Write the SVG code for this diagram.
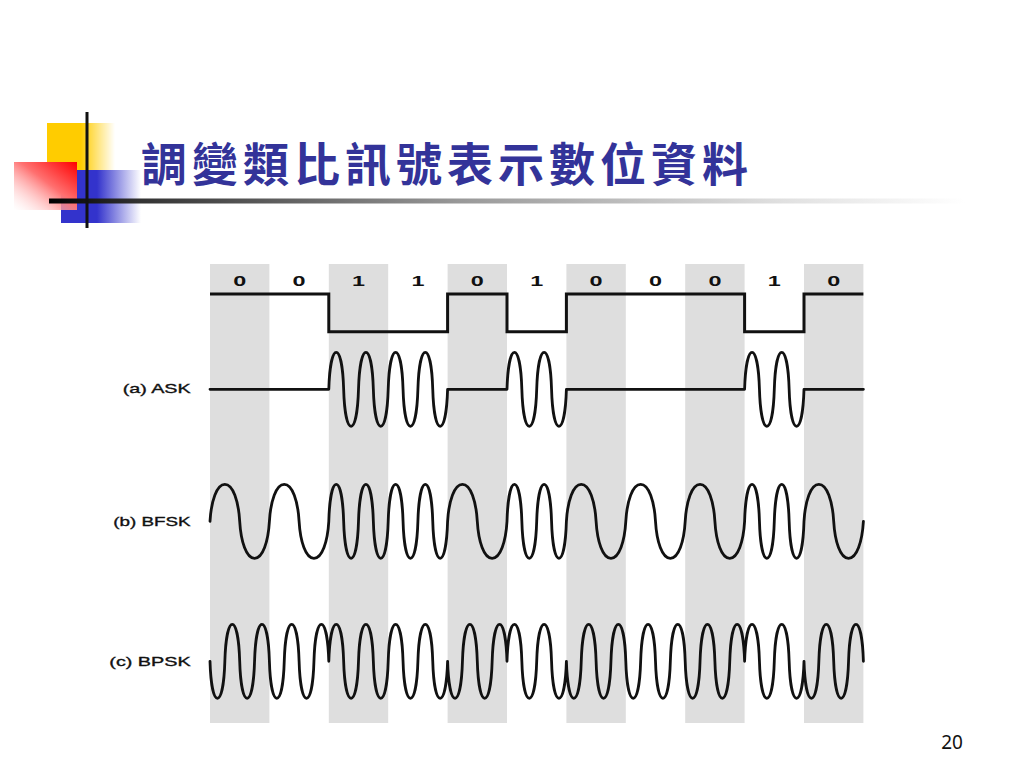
<svg xmlns="http://www.w3.org/2000/svg" width="1024" height="768" viewBox="0 0 1024 768">
<defs>
<style>
.stripe{fill:#dedede}
.wave{fill:none;stroke:#111;stroke-width:2.8;stroke-linejoin:round;stroke-linecap:round}
.digital{fill:none;stroke:#111;stroke-width:3;stroke-linejoin:miter}
.bit{font-family:"Liberation Sans",Arial,sans-serif;font-weight:bold;font-size:15px;fill:#111;text-anchor:middle}
.lbl{font-family:"Liberation Sans",Arial,sans-serif;font-size:13px;fill:#111;stroke:#111;stroke-width:0.35}
.title{font-family:"Noto Sans CJK TC","Noto Sans CJK SC",sans-serif;font-weight:bold;font-size:46px;letter-spacing:5px;fill:#333399}
.page{font-family:"Noto Sans","Liberation Sans",sans-serif;font-size:19px;fill:#111}
</style>
<linearGradient id="gY" x1="0" y1="0" x2="1" y2="0">
<stop offset="0" stop-color="#ffcc00"/><stop offset="0.5" stop-color="#ffcc00"/><stop offset="1" stop-color="#ffcc00" stop-opacity="0"/>
</linearGradient>
<linearGradient id="gR" x1="1" y1="0" x2="0" y2="1">
<stop offset="0" stop-color="#ff0000"/><stop offset="0.45" stop-color="#ff7070"/><stop offset="1" stop-color="#ffffff" stop-opacity="0.3"/>
</linearGradient>
<linearGradient id="gB" x1="0" y1="0" x2="1" y2="0">
<stop offset="0" stop-color="#3333cc"/><stop offset="0.45" stop-color="#3333cc"/><stop offset="1" stop-color="#3333cc" stop-opacity="0"/>
</linearGradient>
<linearGradient id="gL" x1="0" y1="0" x2="1" y2="0">
<stop offset="0" stop-color="#000"/><stop offset="0.1" stop-color="#333"/><stop offset="0.45" stop-color="#999"/><stop offset="0.8" stop-color="#e0e0e0"/><stop offset="1" stop-color="#fff"/>
</linearGradient>
</defs>
<rect width="1024" height="768" fill="#fff"/>
<g id="decoration">
<rect x="47" y="123" width="68" height="47" fill="url(#gY)"/>
<rect x="61" y="170" width="80" height="53" fill="url(#gB)"/>
<rect x="14" y="162" width="63" height="48" fill="url(#gR)"/>
<rect x="49" y="198.5" width="916" height="5" fill="url(#gL)"/>
<line x1="87" y1="112" x2="87" y2="228" stroke="#111" stroke-width="3"/>
</g>
<g id="title">
<text class="title" x="141" y="181">調變類比訊號表示數位資料</text>
</g>
<g id="stripes">
<rect class="stripe" x="210" y="264" width="59.4" height="459"/>
<rect class="stripe" x="328.8" y="264" width="59.4" height="459"/>
<rect class="stripe" x="447.6" y="264" width="59.4" height="459"/>
<rect class="stripe" x="566.4" y="264" width="59.4" height="459"/>
<rect class="stripe" x="685.2" y="264" width="59.4" height="459"/>
<rect class="stripe" x="804" y="264" width="59.4" height="459"/>
</g>
<g id="bits">
<text class="bit" x="239.7" y="286" textLength="13" lengthAdjust="spacingAndGlyphs">0</text>
<text class="bit" x="299.1" y="286" textLength="13" lengthAdjust="spacingAndGlyphs">0</text>
<text class="bit" x="358.5" y="286" textLength="13" lengthAdjust="spacingAndGlyphs">1</text>
<text class="bit" x="417.9" y="286" textLength="13" lengthAdjust="spacingAndGlyphs">1</text>
<text class="bit" x="477.3" y="286" textLength="13" lengthAdjust="spacingAndGlyphs">0</text>
<text class="bit" x="536.7" y="286" textLength="13" lengthAdjust="spacingAndGlyphs">1</text>
<text class="bit" x="596.1" y="286" textLength="13" lengthAdjust="spacingAndGlyphs">0</text>
<text class="bit" x="655.5" y="286" textLength="13" lengthAdjust="spacingAndGlyphs">0</text>
<text class="bit" x="714.9" y="286" textLength="13" lengthAdjust="spacingAndGlyphs">0</text>
<text class="bit" x="774.3" y="286" textLength="13" lengthAdjust="spacingAndGlyphs">1</text>
<text class="bit" x="833.7" y="286" textLength="13" lengthAdjust="spacingAndGlyphs">0</text>
</g>
<g id="labels">
<text class="lbl" x="122.7" y="393" textLength="68" lengthAdjust="spacingAndGlyphs">(a) ASK</text>
<text class="lbl" x="113.3" y="525.5" textLength="77.4" lengthAdjust="spacingAndGlyphs">(b) BFSK</text>
<text class="lbl" x="109.3" y="666" textLength="81.4" lengthAdjust="spacingAndGlyphs">(c) BPSK</text>
</g>
<g id="signals">
<path id="digital" class="digital" d="M210,294 H328.8 V331.7 H447.6 V294 H507 V331.7 H566.4 V294 H744.6 V331.7 H804 V294 H863.4"/>
<path id="ask" class="wave" d="M210,389.3 H328.8 c0.594,-20.35 3.341,-37 7.425,-37 s6.831,16.65 7.425,37 3.341,37 7.425,37 6.831,-16.65 7.425,-37 s3.341,-37 7.425,-37 6.831,16.65 7.425,37 3.341,37 7.425,37 6.831,-16.65 7.425,-37 s3.341,-37 7.425,-37 6.831,16.65 7.425,37 3.341,37 7.425,37 6.831,-16.65 7.425,-37 s3.341,-37 7.425,-37 6.831,16.65 7.425,37 3.341,37 7.425,37 6.831,-16.65 7.425,-37 H507 c0.594,-20.35 3.341,-37 7.425,-37 s6.831,16.65 7.425,37 3.341,37 7.425,37 6.831,-16.65 7.425,-37 s3.341,-37 7.425,-37 6.831,16.65 7.425,37 3.341,37 7.425,37 6.831,-16.65 7.425,-37 H744.6 c0.594,-20.35 3.341,-37 7.425,-37 s6.831,16.65 7.425,37 3.341,37 7.425,37 6.831,-16.65 7.425,-37 s3.341,-37 7.425,-37 6.831,16.65 7.425,37 3.341,37 7.425,37 6.831,-16.65 7.425,-37 H863.4"/>
<path id="bfsk" class="wave" d="M210,521.3 c1.188,-20.35 6.683,-37 14.85,-37 s13.662,16.65 14.85,37 6.683,37 14.85,37 13.662,-16.65 14.85,-37 s6.683,-37 14.85,-37 13.662,16.65 14.85,37 6.683,37 14.85,37 13.662,-16.65 14.85,-37 c0.594,-20.35 3.341,-37 7.425,-37 s6.831,16.65 7.425,37 3.341,37 7.425,37 6.831,-16.65 7.425,-37 s3.341,-37 7.425,-37 6.831,16.65 7.425,37 3.341,37 7.425,37 6.831,-16.65 7.425,-37 s3.341,-37 7.425,-37 6.831,16.65 7.425,37 3.341,37 7.425,37 6.831,-16.65 7.425,-37 s3.341,-37 7.425,-37 6.831,16.65 7.425,37 3.341,37 7.425,37 6.831,-16.65 7.425,-37 c1.188,-20.35 6.683,-37 14.85,-37 s13.662,16.65 14.85,37 6.683,37 14.85,37 13.662,-16.65 14.85,-37 c0.594,-20.35 3.341,-37 7.425,-37 s6.831,16.65 7.425,37 3.341,37 7.425,37 6.831,-16.65 7.425,-37 s3.341,-37 7.425,-37 6.831,16.65 7.425,37 3.341,37 7.425,37 6.831,-16.65 7.425,-37 c1.188,-20.35 6.683,-37 14.85,-37 s13.662,16.65 14.85,37 6.683,37 14.85,37 13.662,-16.65 14.85,-37 s6.683,-37 14.85,-37 13.662,16.65 14.85,37 6.683,37 14.85,37 13.662,-16.65 14.85,-37 s6.683,-37 14.85,-37 13.662,16.65 14.85,37 6.683,37 14.85,37 13.662,-16.65 14.85,-37 c0.594,-20.35 3.341,-37 7.425,-37 s6.831,16.65 7.425,37 3.341,37 7.425,37 6.831,-16.65 7.425,-37 s3.341,-37 7.425,-37 6.831,16.65 7.425,37 3.341,37 7.425,37 6.831,-16.65 7.425,-37 c1.188,-20.35 6.683,-37 14.85,-37 s13.662,16.65 14.85,37 6.683,37 14.85,37 13.662,-16.65 14.85,-37"/>
<path id="bpsk" class="wave" d="M210,661.3 c0.594,20.35 3.341,37 7.425,37 s6.831,-16.65 7.425,-37 3.341,-37 7.425,-37 6.831,16.65 7.425,37 s3.341,37 7.425,37 6.831,-16.65 7.425,-37 3.341,-37 7.425,-37 6.831,16.65 7.425,37 s3.341,37 7.425,37 6.831,-16.65 7.425,-37 3.341,-37 7.425,-37 6.831,16.65 7.425,37 s3.341,37 7.425,37 6.831,-16.65 7.425,-37 3.341,-37 7.425,-37 6.831,16.65 7.425,37 c0.594,-20.35 3.341,-37 7.425,-37 s6.831,16.65 7.425,37 3.341,37 7.425,37 6.831,-16.65 7.425,-37 s3.341,-37 7.425,-37 6.831,16.65 7.425,37 3.341,37 7.425,37 6.831,-16.65 7.425,-37 s3.341,-37 7.425,-37 6.831,16.65 7.425,37 3.341,37 7.425,37 6.831,-16.65 7.425,-37 s3.341,-37 7.425,-37 6.831,16.65 7.425,37 3.341,37 7.425,37 6.831,-16.65 7.425,-37 c0.594,20.35 3.341,37 7.425,37 s6.831,-16.65 7.425,-37 3.341,-37 7.425,-37 6.831,16.65 7.425,37 s3.341,37 7.425,37 6.831,-16.65 7.425,-37 3.341,-37 7.425,-37 6.831,16.65 7.425,37 c0.594,-20.35 3.341,-37 7.425,-37 s6.831,16.65 7.425,37 3.341,37 7.425,37 6.831,-16.65 7.425,-37 s3.341,-37 7.425,-37 6.831,16.65 7.425,37 3.341,37 7.425,37 6.831,-16.65 7.425,-37 c0.594,20.35 3.341,37 7.425,37 s6.831,-16.65 7.425,-37 3.341,-37 7.425,-37 6.831,16.65 7.425,37 s3.341,37 7.425,37 6.831,-16.65 7.425,-37 3.341,-37 7.425,-37 6.831,16.65 7.425,37 s3.341,37 7.425,37 6.831,-16.65 7.425,-37 3.341,-37 7.425,-37 6.831,16.65 7.425,37 s3.341,37 7.425,37 6.831,-16.65 7.425,-37 3.341,-37 7.425,-37 6.831,16.65 7.425,37 s3.341,37 7.425,37 6.831,-16.65 7.425,-37 3.341,-37 7.425,-37 6.831,16.65 7.425,37 s3.341,37 7.425,37 6.831,-16.65 7.425,-37 3.341,-37 7.425,-37 6.831,16.65 7.425,37 c0.594,-20.35 3.341,-37 7.425,-37 s6.831,16.65 7.425,37 3.341,37 7.425,37 6.831,-16.65 7.425,-37 s3.341,-37 7.425,-37 6.831,16.65 7.425,37 3.341,37 7.425,37 6.831,-16.65 7.425,-37 c0.594,20.35 3.341,37 7.425,37 s6.831,-16.65 7.425,-37 3.341,-37 7.425,-37 6.831,16.65 7.425,37 s3.341,37 7.425,37 6.831,-16.65 7.425,-37 3.341,-37 7.425,-37 6.831,16.65 7.425,37"/>
</g>
<g id="page-number">
<text class="page" x="952" y="749" text-anchor="middle">20</text>
</g>
</svg>
